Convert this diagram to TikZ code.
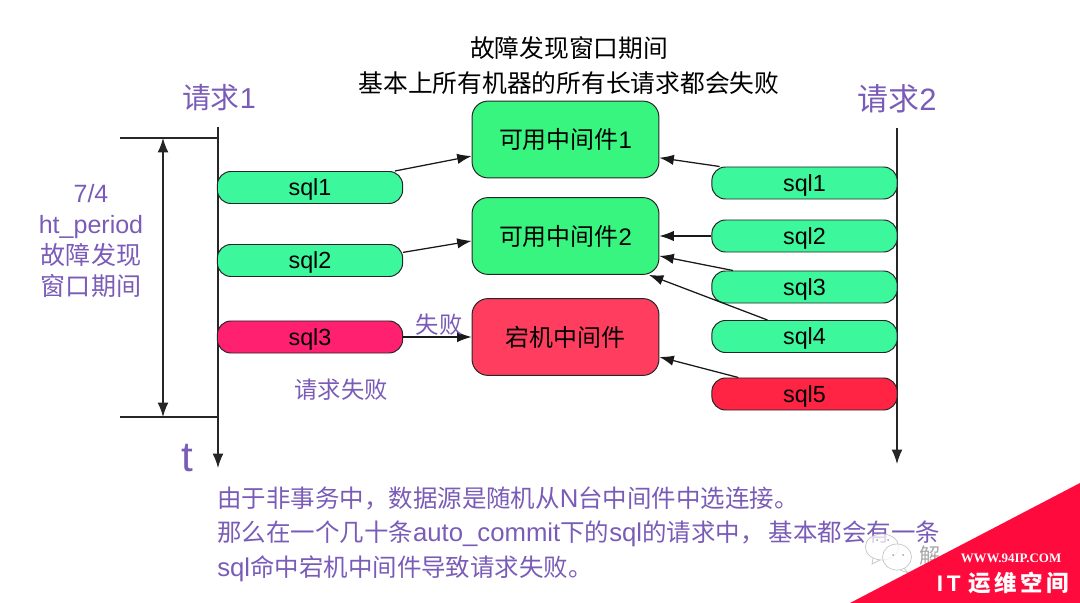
\documentclass[tikz,border=0pt]{standalone}
\usepackage{fontspec}
\usepackage{xcolor}
\setmainfont{Liberation Sans}
\newfontfamily\cjk{Noto Sans CJK SC}
\newfontfamily\cjksmall[Scale=0.951]{Noto Sans CJK SC}
\newfontfamily\wmserif{Liberation Serif}
\newcommand{\zh}[1]{{\cjk #1}}
\newcommand{\zhs}[1]{{\cjksmall #1}}
\definecolor{sqlgreen}{HTML}{3DF79C}
\definecolor{boxgreen}{HTML}{38F57F}
\definecolor{boxred}{HTML}{FF3D5E}
\definecolor{sqlpink}{HTML}{FF2070}
\definecolor{sqlred}{HTML}{FF2444}
\definecolor{notepurple}{HTML}{7A5CB8}
\definecolor{wmred}{HTML}{FF0A3C}
\usetikzlibrary{arrows.meta,positioning}

\begin{document}
\begin{tikzpicture}[
    x=0.025cm,y=-0.025cm,
    every node/.style={font=\fontsize{16.6}{20}\selectfont,inner sep=0pt},
    sqlok/.style    ={rectangle,rounded corners=3.4mm,draw=black!85,fill=sqlgreen,line width=0.7pt,
                     minimum width=4.63cm,minimum height=0.8cm,text depth=0pt},
    sqlbad/.style   ={sqlok,fill=sqlred},
    sqlfail/.style  ={sqlok,fill=sqlpink},
    midbox/.style   ={rectangle,rounded corners=4mm,draw=black!85,fill=boxgreen,line width=0.7pt,
                     minimum width=4.67cm,minimum height=1.92cm,
                     font=\fontsize{17}{20}\selectfont},
    deadbox/.style  ={midbox,fill=boxred},
    note/.style     ={text=notepurple,font=\fontsize{16.6}{24}\selectfont,align=center},
    caption/.style  ={font=\fontsize{17.6}{24.5}\selectfont,align=center},
    timeline/.style ={-{Latex[length=3.6mm,width=2.7mm]},black!85,line width=0.9pt},
    callarrow/.style={-{Latex[length=3.6mm,width=2.6mm]},black!90,line width=0.9pt},
    wechat/.style   ={gray!45,fill=white,fill opacity=0.75,line width=0.5pt},
  ]
  \useasboundingbox (0,0) rectangle (1080,603);

  % --- timelines ---
  \coordinate (t1top) at (218,127);
  \coordinate (t1end) at (218,468);
  \coordinate (t2top) at (897,128);
  \coordinate (t2end) at (897,464);
  \draw[timeline] (t1top) -- (t1end);
  \draw[timeline] (t2top) -- (t2end);
  \node[text=notepurple,font=\fontsize{20.5}{24}\selectfont] (req1) at (219,98) {\zh{请求}1};
  \node[text=notepurple,font=\fontsize{22}{24}\selectfont] (req2) at (897,99) {\zh{请求}2};
  \node[text=notepurple,font=\fontsize{30}{30}\selectfont] (tlabel) at (187,458) {t};

  % --- window on the left ---
  \coordinate (wtopl) at (120,138);
  \coordinate (wtopr) at (218,138);
  \coordinate (wbotl) at (120,417);
  \coordinate (wbotr) at (218,417);
  \coordinate (wtop) at (163,138);
  \coordinate (wbot) at (163,417);
  \draw[black!85,line width=0.9pt] (wtopl) -- (wtopr);
  \draw[black!85,line width=0.9pt] (wbotl) -- (wbotr);
  \draw[{Latex[length=3.6mm,width=2.7mm]}-{Latex[length=3.6mm,width=2.7mm]},black!85,line width=0.9pt] (wtop) -- (wbot);
  \node[note,font=\fontsize{17.8}{22}\selectfont] (wlabel) at (91,241) {7/4\\ht\_period\\\zh{故障发现}\\\zh{窗口期间}};

  % --- middleware ---
  \node[midbox]  (m1) at (565.5,139.5) {\zh{可用中间件}1};
  \node[midbox]  (m2) at (565.5,236)   {\zh{可用中间件}2};
  \node[deadbox] (m3) at (565.5,337)   {\zh{宕机中间件}};
  \node[caption] (title) at (569,65.5) {\zh{故障发现窗口期间}\\\zh{基本上所有机器的所有长请求都会失败}};

  % --- request 1 ---
  \node[sqlok]   (a1) at (310,187.5) {sql1};
  \node[sqlok]   (a2) at (310,260.5) {sql2};
  \node[sqlfail] (a3) at (310,337)   {sql3};
  \draw[callarrow] (a1.11) -- (m1.190.6);
  \draw[callarrow] (a2.5) -- (m2.183);
  \draw[callarrow] (a3.east) -- (m3.west);
  \node[note] (failed) at (439,325) {\zh{失败}};
  \node[note] (reqfail) at (341,390) {\zh{请求失败}};

  % --- request 2 ---
  \node[sqlok]  (b1) at (804.5,183) {sql1};
  \node[sqlok]  (b2) at (804.5,236) {sql2};
  \node[sqlok]  (b3) at (804.5,287) {sql3};
  \node[sqlok]  (b4) at (804.5,336.5) {sql4};
  \node[sqlbad] (b5) at (804.5,394) {sql5};
  \draw[callarrow] (b1.169) -- (m1.-11);
  \draw[callarrow] (b2.west) -- (m2.east);
  \draw[callarrow] (b3.167.9) -- (m2.-12);
  \draw[callarrow] (b4.156.3) -- (m2.-25);
  \draw[callarrow] (b5.166.3) -- (m3.-12.4);

  % --- summary ---
  \node[note,anchor=west,align=left,font=\fontsize{18.3}{24.5}\selectfont] (summary) at (217,534) {%
    \zhs{由于非事务中，数据源是随机从}N\zhs{台中间件中选连接。}\\
    \zhs{那么在一个几十条}auto\_commit\zhs{下的}sql\zhs{的请求中，\,基本都会有一条}\\
    sql\zhs{命中宕机中间件导致请求失败。}};

  % --- watermark ---
  \draw[wechat] (882,547) ellipse (16.7 and 13);
  \draw[wechat] (897,557) ellipse (14.5 and 13);
  \draw[gray!45,line width=0.5pt] (873,558) -- (872,564) -- (880,560);
  \draw[gray!45,line width=0.5pt] (904,568) -- (908,573) -- (900,570);
  \fill[gray!70] (877,540) circle (1) (888,540) circle (1)
                 (893,555) circle (1) (903,555) circle (1);
  \node[text=gray!70,font=\fontsize{15}{20}\selectfont] (wmname) at (930,556) {\zh{解}};
  \fill[wmred] (850,603) -- (1080,483) -- (1080,603) -- cycle;
  \node[text=white,font=\fontsize{9.2}{12}\selectfont\bfseries\wmserif] (wmurl) at (1011,558) {WWW.94IP.COM};
  \node[text=white,font=\fontsize{16}{20}\selectfont\bfseries] (wmsite) at (1003,583) {I\,T\,\zh{\,运\,维\,空\,间}};
\end{tikzpicture}
\end{document}
